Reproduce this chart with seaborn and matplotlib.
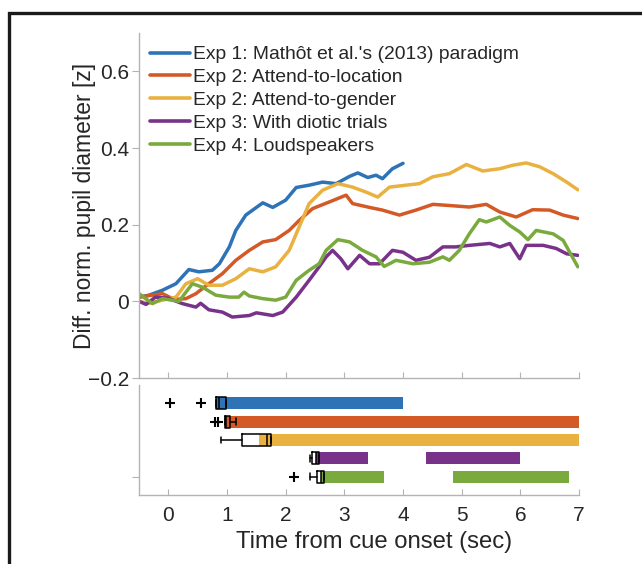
import numpy as np
import pandas as pd
import matplotlib
matplotlib.use("Agg")
import matplotlib.pyplot as plt
import seaborn as sns
from matplotlib.patches import Rectangle

# ---------------- data ----------------
labels = ["Exp 1: Mathôt et al.'s (2013) paradigm",
          "Exp 2: Attend-to-location",
          "Exp 2: Attend-to-gender",
          "Exp 3: With diotic trials",
          "Exp 4: Loudspeakers"]
colors = ["#2F73B7", "#D35A27", "#E9B140", "#78328A", "#7AAA3E"]

t_exp1 = [-0.5, -0.33, -0.1, 0.13, 0.35, 0.52, 0.75, 0.87, 1.04, 1.15, 1.32, 1.61, 1.78, 2.0,
          2.18, 2.4, 2.63, 2.86, 3.09, 3.23, 3.40, 3.54, 3.65, 3.82, 4.0]
v_exp1 = [0.011, 0.016, 0.029, 0.046, 0.083, 0.077, 0.081, 0.098, 0.142, 0.185, 0.225, 0.257,
          0.245, 0.264, 0.297, 0.303, 0.311, 0.307, 0.326, 0.335, 0.323, 0.329, 0.32, 0.346, 0.36]

t_exp2a = [-0.5, -0.1, 0.1, 0.30, 0.47, 0.69, 0.92, 1.15, 1.38, 1.61, 1.83, 2.06, 2.23, 2.46,
           2.74, 3.03, 3.14, 3.43, 3.65, 3.94, 4.22, 4.51, 4.79, 5.13, 5.42, 5.65, 5.93, 6.21,
           6.5, 6.73, 6.98]
v_exp2a = [0.011, 0.02, 0.005, 0.007, 0.02, 0.046, 0.072, 0.107, 0.133, 0.155, 0.161, 0.185,
           0.211, 0.242, 0.259, 0.277, 0.255, 0.245, 0.238, 0.225, 0.238, 0.253, 0.25, 0.246,
           0.253, 0.233, 0.22, 0.239, 0.238, 0.225, 0.216]

t_exp2b = [-0.5, -0.33, -0.1, 0.13, 0.30, 0.5, 0.69, 0.92, 1.15, 1.38, 1.61, 1.83, 2.06, 2.23,
           2.4, 2.63, 2.89, 3.14, 3.37, 3.57, 3.77, 4.05, 4.28, 4.51, 4.79, 5.08, 5.36, 5.65,
           5.87, 6.1, 6.33, 6.56, 6.79, 6.98]
v_exp2b = [0.0, -0.005, 0.003, 0.011, 0.046, 0.059, 0.042, 0.042, 0.059, 0.085, 0.077, 0.09,
           0.133, 0.194, 0.255, 0.29, 0.307, 0.298, 0.285, 0.272, 0.298, 0.303, 0.307, 0.325,
           0.333, 0.357, 0.34, 0.346, 0.355, 0.361, 0.351, 0.333, 0.311, 0.291]

t_exp3 = [-0.5, -0.38, -0.22, 0.0, 0.24, 0.47, 0.55, 0.69, 0.92, 1.09, 1.38, 1.5, 1.78, 1.95,
          2.18, 2.4, 2.57, 2.69, 2.80, 2.94, 3.06, 3.26, 3.43, 3.6, 3.82, 4.0, 4.22, 4.45,
          4.68, 4.9, 5.13, 5.48, 5.65, 5.82, 5.99, 6.1, 6.39, 6.61, 6.79, 6.98]
v_exp3 = [0.0, -0.008, 0.011, 0.008, -0.006, -0.015, -0.005, -0.022, -0.028, -0.041, -0.037,
          -0.030, -0.037, -0.028, 0.011, 0.055, 0.09, 0.116, 0.133, 0.111, 0.085, 0.12, 0.098,
          0.098, 0.133, 0.128, 0.107, 0.115, 0.142, 0.142, 0.146, 0.151, 0.142, 0.151, 0.111,
          0.146, 0.146, 0.138, 0.124, 0.12]

t_exp4 = [-0.5, -0.27, -0.1, 0.18, 0.41, 0.58, 0.81, 1.04, 1.2, 1.29, 1.38, 1.61, 1.83, 2.0,
          2.18, 2.4, 2.57, 2.69, 2.89, 3.09, 3.31, 3.54, 3.68, 3.88, 4.17, 4.45, 4.68, 4.79,
          4.96, 5.13, 5.30, 5.42, 5.65, 5.82, 5.99, 6.13, 6.27, 6.56, 6.73, 6.98]
v_exp4 = [0.02, -0.006, 0.007, 0.0, 0.046, 0.037, 0.016, 0.011, 0.011, 0.024, 0.014, 0.007,
          0.003, 0.011, 0.055, 0.081, 0.098, 0.133, 0.161, 0.155, 0.133, 0.116, 0.091, 0.107,
          0.098, 0.102, 0.116, 0.107, 0.133, 0.176, 0.213, 0.207, 0.22, 0.198, 0.181, 0.161,
          0.185, 0.176, 0.159, 0.09]

# lower panel: significant intervals (start, end) per experiment
rows = [1, 2, 3, 4, 5]
bar_starts = [[0.81], [0.97], [1.54], [2.52, 4.40], [2.60, 4.85]]
bar_ends = [[4.0], [7.0], [7.0], [3.40, 5.99], [3.67, 6.83]]
# onset distribution summaries (box plots)
box_q1 = [0.81, 0.96, 1.26, 2.45, 2.54]
box_med = [0.87, 0.99, 1.68, 2.52, 2.60]
box_q3 = [0.99, 1.05, 1.75, 2.57, 2.65]
whis_lo = [0.81, 0.96, 0.90, 2.42, 2.41]
whis_hi = [0.99, 1.16, 1.75, 2.57, 2.65]
fliers = [[0.03, 0.55], [0.80, 0.84], [], [], [2.15]]

xticks = [0, 1, 2, 3, 4, 5, 6, 7]
yticks_top = [-0.2, 0, 0.2, 0.4, 0.6]
ytick_labels_top = ["\u22120.2", "0", "0.2", "0.4", "0.6"]

# ---------------- styling ----------------
sns.set_style("ticks")
plt.rcParams["font.family"] = ["Liberation Sans", "DejaVu Sans"]
spine_col = "#b3b3b3"
text_col = "#262626"

fig = plt.figure(figsize=(6.42, 5.64), dpi=100)
W, H = 642, 564

def pax(l, t, r, b):
    return fig.add_axes([l / W, (H - b) / H, (r - l) / W, (b - t) / H])

ax1 = pax(139, 33, 579, 378)
ax2 = pax(139, 385, 579, 495)

# frame around figure
fig.patches.append(Rectangle((9 / W, -0.2), 1.5, (H - 13) / H + 0.2,
                             transform=fig.transFigure, fill=False,
                             edgecolor="#1a1a1a", linewidth=2.4))

# ---------------- upper panel ----------------
series = [(t_exp1, v_exp1), (t_exp2a, v_exp2a), (t_exp2b, v_exp2b),
          (t_exp3, v_exp3), (t_exp4, v_exp4)]
frames = []
for lab, (t, v) in zip(labels, series):
    frames.append(pd.DataFrame({"time": t, "value": v, "exp": lab}))
df = pd.concat(frames, ignore_index=True)

sns.lineplot(data=df, x="time", y="value", hue="exp", hue_order=labels,
             palette=colors, linewidth=2.5, ax=ax1, estimator=None, sort=True)

ax1.set_xlim(-0.5, 7)
ax1.set_ylim(-0.2, 0.7)
ax1.set_xticks(xticks)
ax1.set_xticklabels([])
ax1.set_yticks(yticks_top)
ax1.set_yticklabels(ytick_labels_top)
ax1.set_xlabel("")
ax1.set_ylabel("Diff. norm. pupil diameter [z]", fontsize=16.5, color=text_col, labelpad=-5.5)
for s in ["top", "right"]:
    ax1.spines[s].set_visible(False)
for s in ["left", "bottom"]:
    ax1.spines[s].set_color(spine_col)
    ax1.spines[s].set_linewidth(1.0)
ax1.tick_params(axis="x", direction="in", length=4, color=spine_col)
ax1.tick_params(axis="y", direction="out", length=5, color=spine_col,
                labelsize=15, labelcolor=text_col, pad=2)

leg = ax1.legend(loc="upper left", bbox_to_anchor=(0.0, 1.0 - 2.0 / 345), frameon=False,
                 fontsize=13.9, handlelength=2.07, handletextpad=0.15,
                 labelspacing=0.28, borderaxespad=0.28, borderpad=0.28)
for line in leg.get_lines():
    line.set_linewidth(2.6)

# ---------------- lower panel ----------------
for r, st, en, c in zip(rows, bar_starts, bar_ends, colors):
    widths = [e - s for s, e in zip(st, en)]
    ax2.barh([r] * len(st), widths, left=st, height=0.65, color=c,
             edgecolor="none", zorder=2)

stats = []
for i in range(len(rows)):
    stats.append({"med": box_med[i], "q1": box_q1[i], "q3": box_q3[i],
                  "whislo": whis_lo[i], "whishi": whis_hi[i],
                  "fliers": fliers[i]})
ax2.bxp(stats, positions=rows, orientation="horizontal", widths=0.65,
        showfliers=True, patch_artist=False,
        boxprops=dict(color="black", linewidth=1.1),
        medianprops=dict(color="black", linewidth=1.1),
        whiskerprops=dict(color="black", linewidth=1.1),
        capprops=dict(color="black", linewidth=1.1),
        capwidths=0.35,
        flierprops=dict(marker="+", markeredgecolor="black", markersize=6.5,
                        markeredgewidth=1.5, linestyle="none"),
        manage_ticks=False)

ax2.set_xlim(-0.5, 7)
ax2.set_ylim(6, 0)
ax2.set_xticks(xticks)
ax2.set_xticklabels([str(x) for x in xticks])
ax2.set_yticks([5])
ax2.set_yticklabels([])
ax2.set_xlabel("Time from cue onset (sec)", fontsize=17.2, color=text_col, labelpad=5)
ax2.xaxis.set_label_coords(0.534, -0.327)
ax2.xaxis.label.set_verticalalignment("top")
for s in ["top", "right"]:
    ax2.spines[s].set_visible(False)
for s in ["left", "bottom"]:
    ax2.spines[s].set_color(spine_col)
    ax2.spines[s].set_linewidth(1.0)
ax2.tick_params(axis="x", direction="in", length=4, color=spine_col,
                labelsize=15, labelcolor=text_col, pad=8)
ax2.tick_params(axis="y", direction="out", length=5, color=spine_col)

fig.savefig("out.png", dpi=100)
